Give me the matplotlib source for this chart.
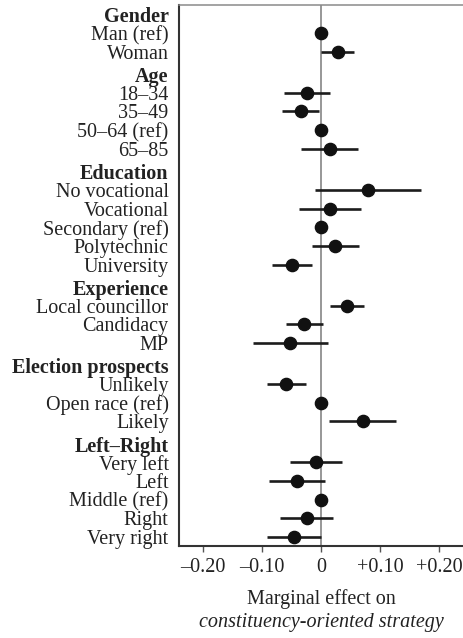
import numpy as np
import matplotlib
matplotlib.use('Agg')
import matplotlib.pyplot as plt
from matplotlib.transforms import blended_transform_factory

plt.rcParams['font.family'] = ['Liberation Serif', 'DejaVu Serif']

# groups and their rows
groups = ['Gender', 'Age', 'Education', 'Experience', 'Election prospects', 'Left–Right']
labels = [
    ['Man (ref)', 'Woman'],
    ['18–34', '35–49', '50–64 (ref)', '65–85'],
    ['No vocational', 'Vocational', 'Secondary (ref)', 'Polytechnic', 'University'],
    ['Local councillor', 'Candidacy', 'MP'],
    ['Unlikely', 'Open race (ref)', 'Likely'],
    ['Very left', 'Left', 'Middle (ref)', 'Right', 'Very right'],
]
est = [
    [0.0, 0.028],
    [-0.024, -0.034, 0.0, 0.015],
    [0.079, 0.015, 0.0, 0.024, -0.049],
    [0.044, -0.029, -0.052],
    [-0.060, 0.0, 0.071],
    [-0.008, -0.040, 0.0, -0.024, -0.046],
]
lo = [
    [np.nan, 0.000],
    [-0.062, -0.066, np.nan, -0.033],
    [-0.010, -0.038, np.nan, -0.016, -0.082],
    [0.015, -0.059, -0.115],
    [-0.092, np.nan, 0.014],
    [-0.052, -0.088, np.nan, -0.070, -0.092],
]
hi = [
    [np.nan, 0.055],
    [0.015, -0.003, np.nan, 0.063],
    [0.169, 0.068, np.nan, 0.064, -0.015],
    [0.073, 0.003, 0.012],
    [-0.026, np.nan, 0.127],
    [0.035, 0.006, np.nan, 0.020, 0.000],
]
xticks = [-0.20, -0.10, 0.0, 0.10, 0.20]
xticklabels = ['–0.20', '–0.10', '0', '+0.10', '+0.20']

fig = plt.figure(figsize=(4.63, 6.38), dpi=100)
ax = fig.add_axes([179 / 463, 1 - 545.5 / 638, 1 - 179 / 463, (545.5 - 5) / 638])

# row positions (going downwards)
ypos, ylab, yhead = [], [], []
pos = 0.0
for gi, g in enumerate(groups):
    if gi > 0:
        pos += 1.23
    ypos.append(pos); ylab.append(g); yhead.append(True)
    for j, lab in enumerate(labels[gi]):
        pos += 0.97 if j == 0 else 1.0
        ypos.append(pos); ylab.append(lab); yhead.append(False)
        e, l, h = est[gi][j], lo[gi][j], hi[gi][j]
        if not np.isnan(l):
            ax.plot([l, h], [pos, pos], color='#1c1c1c', lw=1.9, solid_capstyle='butt', zorder=3)
        ax.plot(e, pos, 'o', color='#111111', ms=8.8, zorder=4)

ax.axvline(0, color='#7a7a7a', lw=1.1, zorder=1)
ax.set_xlim(-0.24, 0.24)
ax.set_ylim(pos + 0.45, -0.53)

ax.set_yticks(ypos)
ax.set_yticklabels(ylab, fontsize=14.5)
for t, h in zip(ax.get_yticklabels(), yhead):
    if h:
        t.set_fontweight('bold')
ax.tick_params(axis='y', length=0, pad=7.5, colors='#222222')
ax.set_xticks(xticks)
ax.set_xticklabels(xticklabels, fontsize=14.5, color='#222222')
ax.tick_params(axis='x', length=4, width=1, color='#555555', pad=5)

ax.spines['right'].set_visible(False)
ax.spines['top'].set_color('#8a8a8a')
ax.spines['top'].set_linewidth(1.1)
ax.spines['left'].set_color('#333333')
ax.spines['left'].set_linewidth(1.5)
ax.spines['bottom'].set_color('#333333')
ax.spines['bottom'].set_linewidth(1.5)

tr = blended_transform_factory(ax.transAxes, fig.transFigure)
ax.text(0.5, 1 - 599 / 638, 'Marginal effect on', transform=tr, ha='center', va='center',
        fontsize=14.5, color='#222222')
ax.text(0.5, 1 - 622 / 638, 'constituency-oriented strategy', transform=tr, ha='center',
        va='center', fontsize=14.5, style='italic', color='#222222')

fig.savefig('out.png', dpi=100)
